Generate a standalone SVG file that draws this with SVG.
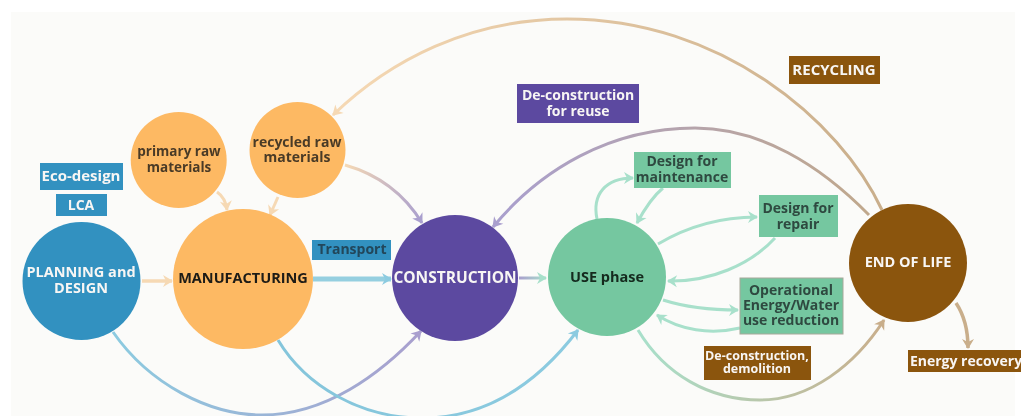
<svg xmlns="http://www.w3.org/2000/svg" width="1021" height="416" viewBox="0 0 1021 416">
<style>
text{font-family:"Open Sans","Liberation Sans",sans-serif;font-weight:700;text-anchor:middle}
.c{fill:none;stroke-width:3;stroke-linecap:butt}
.w{fill:#f8f6f4}
.d{fill:#2f4a40}
.blue{fill:#3191c0}.or{fill:#fdb964}.pu{fill:#5c4aa0}.gr{fill:#74c7a0}.br{fill:#8b5510}
.lb{fill:#3191c0}.lg{fill:#74c7a0}.lbr{fill:#8b5510}.lp{fill:#5c4aa0}
.n{font-size:14.5px}.l{font-size:14px}.s{font-size:13.5px}
</style>
<defs>
<filter id="soft" x="0" y="0" width="100%" height="100%"><feGaussianBlur stdDeviation="0.45"/></filter>
<marker id="aO" markerUnits="userSpaceOnUse" markerWidth="14" markerHeight="14" refX="10" refY="7" orient="auto"><path d="M1 1L11 7L1 13L4 7Z" fill="#f6d9b4"/></marker>
<marker id="aP" markerUnits="userSpaceOnUse" markerWidth="14" markerHeight="14" refX="10" refY="7" orient="auto"><path d="M1 1L11 7L1 13L4 7Z" fill="#a99fce"/></marker>
<marker id="aB" markerUnits="userSpaceOnUse" markerWidth="14" markerHeight="14" refX="10" refY="7" orient="auto"><path d="M1 1L11 7L1 13L4 7Z" fill="#8ccbe0"/></marker>
<marker id="aG" markerUnits="userSpaceOnUse" markerWidth="14" markerHeight="14" refX="10" refY="7" orient="auto"><path d="M1 1L11 7L1 13L4 7Z" fill="#a8e0cb"/></marker>
<marker id="aT" markerUnits="userSpaceOnUse" markerWidth="14" markerHeight="14" refX="10" refY="7" orient="auto"><path d="M1 1L11 7L1 13L4 7Z" fill="#c9ae8b"/></marker>
<linearGradient id="g1" gradientUnits="userSpaceOnUse" x1="113" y1="0" x2="421" y2="0"><stop offset="0" stop-color="#8ccbe0"/><stop offset="1" stop-color="#a99fce"/></linearGradient>
<linearGradient id="g2" gradientUnits="userSpaceOnUse" x1="278" y1="0" x2="578" y2="0"><stop offset="0" stop-color="#84c5db"/><stop offset="1" stop-color="#8ccbe0"/></linearGradient>
<linearGradient id="g3" gradientUnits="userSpaceOnUse" x1="882" y1="0" x2="333" y2="0"><stop offset="0" stop-color="#c9ae8b"/><stop offset="1" stop-color="#f6d9b4"/></linearGradient>
<linearGradient id="g4" gradientUnits="userSpaceOnUse" x1="869" y1="0" x2="493" y2="0"><stop offset="0" stop-color="#c0a88c"/><stop offset="1" stop-color="#a99fce"/></linearGradient>
<linearGradient id="g5" gradientUnits="userSpaceOnUse" x1="345" y1="0" x2="422" y2="0"><stop offset="0" stop-color="#f6d9b4"/><stop offset="1" stop-color="#a99fce"/></linearGradient>
<linearGradient id="g6" gradientUnits="userSpaceOnUse" x1="519" y1="0" x2="546" y2="0"><stop offset="0" stop-color="#a99fce"/><stop offset="1" stop-color="#a8e0cb"/></linearGradient>
<linearGradient id="g7" gradientUnits="userSpaceOnUse" x1="638" y1="0" x2="884" y2="0"><stop offset="0" stop-color="#a8e0cb"/><stop offset="1" stop-color="#c9ae8b"/></linearGradient>
</defs>
<rect width="1021" height="416" fill="#ffffff"/>
<g filter="url(#soft)">
<rect x="11" y="12" width="1004" height="404" fill="#fbfbf9"/>
<g id="connectors">
<path class="c" stroke="url(#g1)" marker-end="url(#aP)" d="M113 332C150 385 210 415 262 415C325 415 380 375 421 331"/>
<path class="c" stroke="url(#g2)" marker-end="url(#aB)" d="M278 340C305 385 360 419 425 418C490 417 540 380 578 330"/>
<path class="c" stroke="url(#g3)" marker-end="url(#aO)" d="M882 210C840 120 720 19 567 19C470 19 390 60 333 115"/>
<path class="c" stroke="url(#g4)" marker-end="url(#aP)" d="M869 215C820 165 760 128 695 128C610 128 540 170 493 227"/>
<path class="c" stroke="url(#g5)" marker-end="url(#aP)" d="M345 165C380 175 405 195 422 223"/>
<path class="c" stroke="#f6d9b4" style="stroke-width:3.5" marker-end="url(#aO)" d="M142 281H172"/>
<path class="c" stroke="#95cfe0" style="stroke-width:5" marker-end="url(#aB)" d="M313 279H391"/>
<path class="c" stroke="url(#g6)" marker-end="url(#aG)" d="M519 278H546"/>
<path class="c" stroke="#f6d9b4" marker-end="url(#aO)" d="M217 192C223 196 226 202 227 210"/>
<path class="c" stroke="#f6d9b4" marker-end="url(#aO)" d="M278 197L270 215"/>
<path class="c" stroke="#a8e0cb" marker-end="url(#aG)" d="M597 219C592 195 605 178 633 178"/>
<path class="c" stroke="#a8e0cb" marker-end="url(#aG)" d="M663 188C652 197 644 210 637 223"/>
<path class="c" stroke="#a8e0cb" marker-end="url(#aG)" d="M658 244C690 225 725 217 757 217"/>
<path class="c" stroke="#a8e0cb" marker-end="url(#aG)" d="M775 238C750 265 710 282 668 281"/>
<path class="c" stroke="#a8e0cb" marker-end="url(#aG)" d="M663 300C685 307 710 310 738 310"/>
<path class="c" stroke="#a8e0cb" marker-end="url(#aG)" d="M740 328C710 335 680 330 657 315"/>
<path class="c" stroke="url(#g7)" marker-end="url(#aT)" d="M638 330C665 375 710 400 760 400C810 400 855 365 884 320"/>
<path class="c" stroke="#c9ae8b" style="stroke-width:3.5" marker-end="url(#aT)" d="M956 303C964 315 968 330 968 348"/>
</g>
<g id="planning"><circle class="blue" cx="81.5" cy="281" r="59"/><text class="n w" x="81" y="277">PLANNING and</text><text class="n w" x="81" y="293">DESIGN</text></g>
<g id="manufacturing"><circle class="or" cx="243" cy="279" r="70"/><text class="n" fill="#1d1a16" x="243" y="283">MANUFACTURING</text></g>
<g id="primary"><circle class="or" cx="178.7" cy="160" r="48"/><text class="s" fill="#4a3a26" x="179" y="156">primary raw</text><text class="s" fill="#4a3a26" x="179" y="172">materials</text></g>
<g id="recycled"><circle class="or" cx="297.5" cy="150" r="48"/><text class="l" fill="#4a3a26" x="297" y="147">recycled raw</text><text class="l" fill="#4a3a26" x="297" y="162">materials</text></g>
<g id="construction"><circle class="pu" cx="455" cy="278" r="63"/><text fill="#f8f6f4" font-size="15.5" x="455" y="283">CONSTRUCTION</text></g>
<g id="use"><circle class="gr" cx="607" cy="277" r="59"/><text class="n" fill="#14291f" x="607" y="282">USE phase</text></g>
<g id="endoflife"><circle class="br" cx="908" cy="263" r="59"/><text class="n w" x="908" y="267">END OF LIFE</text></g>
<g id="eco-design"><rect class="lb" x="40" y="163" width="83" height="27"/><text class="w" font-size="15" x="81" y="181">Eco-design</text></g>
<g id="lca"><rect class="lb" x="56" y="194" width="51" height="22"/><text class="l w" x="81" y="210">LCA</text></g>
<g id="transport"><rect class="lb" x="312" y="240" width="79" height="20"/><text class="l" fill="#23465a" x="352" y="254">Transport</text></g>
<g id="maintenance"><rect class="lg" x="634" y="152" width="97" height="36"/><text class="l d" x="682" y="166">Design for</text><text class="l d" x="682" y="182">maintenance</text></g>
<g id="repair"><rect class="lg" x="759" y="195" width="79" height="42"/><text class="l d" x="798" y="213">Design for</text><text class="l d" x="798" y="229">repair</text></g>
<g id="operational"><rect class="lg" x="740" y="278" width="103" height="56" stroke="#a8a89a"/><text class="l d" x="791" y="295">Operational</text><text class="l d" x="791" y="310">Energy/Water</text><text class="l d" x="791" y="325">use reduction</text></g>
<g id="demolition"><rect class="lbr" x="704" y="346" width="107" height="34"/><text class="w" font-size="12.5" x="757" y="360">De-construction,</text><text class="w" font-size="12.5" x="757" y="373">demolition</text></g>
<g id="recycling"><rect class="lbr" x="789" y="56" width="91" height="28"/><text class="w" font-size="15" x="834" y="75">RECYCLING</text></g>
<g id="energy"><rect class="lbr" x="908" y="350" width="113" height="22"/><text class="l w" x="966" y="366">Energy recovery</text></g>
<g id="reuse"><rect class="lp" x="517" y="84" width="122" height="39"/><text class="l w" x="578" y="100">De-construction</text><text class="l w" x="578" y="116">for reuse</text></g>
</g>
</svg>
